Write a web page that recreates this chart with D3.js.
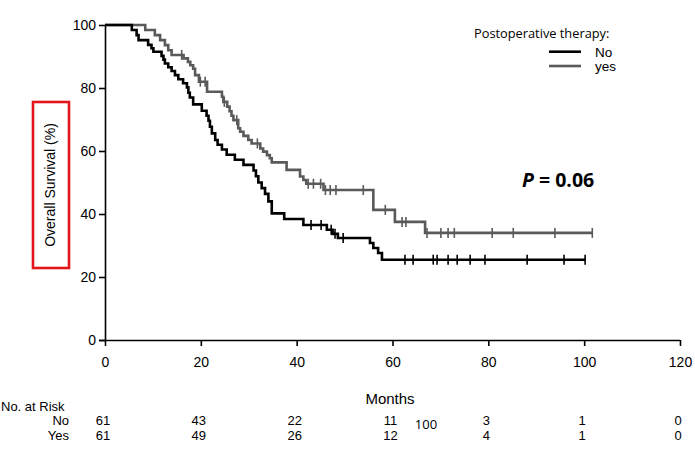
<!DOCTYPE html>
<html><head><meta charset="utf-8">
<script src="https://cdn.jsdelivr.net/npm/d3@7"></script>
<style>body{margin:0;background:#fff}svg{display:block}</style>
</head><body>
<script>
// ---- data ----
const xTicks = [0, 20, 40, 60, 80, 100, 120];
const yTicks = [0, 20, 40, 60, 80, 100];
const seriesNames = ["No", "yes"];
// "No" group (black) step curve
const noTimes = [0, 5.6, 6.6, 7.0, 9.0, 9.7, 10.1, 11.8, 12.2, 12.5, 13.2, 13.9, 14.6, 15.3, 16.3, 17.1, 17.4, 17.7, 18.4, 20.2, 21.2, 21.6, 21.9, 22.3, 23.0, 23.5, 24.4, 25.4, 27.1, 28.9, 31.0, 31.5, 32.0, 32.7, 33.4, 34.1, 34.8, 37.4, 41.4, 46.3, 47.5, 48.6, 55.3, 56.0, 57.0, 57.8];
const noSurv  = [100, 98.4, 96.8, 95.2, 93.7, 92.6, 91.5, 90.2, 89.0, 87.8, 86.6, 85.4, 84.1, 82.8, 81.5, 80.2, 78.5, 77.0, 74.8, 72.8, 71.2, 69.6, 67.7, 65.6, 63.5, 62.0, 60.5, 58.8, 57.2, 55.6, 53.8, 52.0, 50.0, 48.2, 46.4, 44.0, 40.2, 38.4, 36.5, 35.0, 33.7, 32.4, 30.8, 29.2, 27.6, 25.5];
const noEnd = 100.2;
const noCensor = [43.0, 45.1, 47.2, 48.0, 49.7, 62.6, 64.3, 68.5, 69.3, 71.6, 73.5, 76.2, 79.3, 88.1, 95.8, 100.2];
// "yes" group (grey) step curve
const yesTimes = [0, 8.4, 10.4, 11.5, 12.5, 13.2, 13.9, 16.4, 17.3, 17.8, 18.4, 18.8, 19.6, 21.3, 24.4, 24.7, 25.5, 26.0, 26.4, 26.8, 27.8, 28.2, 28.9, 29.9, 30.6, 32.4, 33.0, 33.8, 34.4, 34.8, 37.9, 40.7, 41.4, 42.0, 45.6, 56.0, 60.5, 66.8];
const yesSurv  = [100, 98.4, 96.8, 95.2, 93.6, 92.0, 90.5, 89.4, 88.3, 87.2, 86.1, 84.1, 82.0, 78.8, 77.2, 75.6, 74.1, 72.6, 71.2, 69.8, 67.2, 66.1, 64.8, 63.5, 62.4, 60.8, 59.8, 58.7, 57.7, 56.4, 54.0, 51.9, 50.8, 49.6, 47.6, 41.3, 37.5, 34.0];
const yesEnd = 101.7;
const yesCensor = [16.0, 19.9, 20.9, 24.9, 27.5, 31.8, 42.4, 43.5, 45.0, 46.0, 47.0, 48.2, 53.9, 58.5, 62.0, 62.8, 67.2, 70.1, 71.6, 72.9, 80.8, 85.2, 93.9, 101.7];
// number at risk
const riskTimes = [0, 20, 40, 60, 80, 100, 120];
const riskNo  = [61, 43, 22, 11, 3, 1, 0];
const riskYes = [61, 49, 26, 12, 4, 1, 0];
const pText = "0.06";

// ---- drawing ----
const W = 695, H = 458;
const svg = d3.select("body").append("svg").attr("width", W).attr("height", H);
const x = d3.scaleLinear().domain([0, 120]).range([105, 680]);
const y = d3.scaleLinear().domain([0, 100]).range([340, 25]);
const AX = "'Liberation Sans', Arial, sans-serif";
const NARROW = "'Liberation Sans Narrow', 'Liberation Sans', Arial, sans-serif";

// axes
const gy = svg.append("g").attr("transform", `translate(${x(0)},0)`)
  .call(d3.axisLeft(y).tickValues(yTicks).tickSize(6).tickPadding(3).tickFormat(d3.format("d")));
const gx = svg.append("g").attr("transform", `translate(0,${y(0)})`)
  .call(d3.axisBottom(x).tickValues(xTicks).tickSize(6).tickPadding(11).tickFormat(d3.format("d")));
[gy, gx].forEach(g => {
  g.select(".domain").attr("stroke", "#000").attr("stroke-width", 1.6);
  g.selectAll(".tick line").attr("stroke", "#000").attr("stroke-width", 1.6);
  g.selectAll("text").attr("font-family", AX).attr("font-size", 14).attr("fill", "#000");
});
gx.select(".domain").attr("d", `M${x(0)-6},0.5H${x(120)}`);
gy.select(".domain").attr("d", `M0.5,${y(100)}V${y(0)}`);

function stepFn(times, surv) {
  return t => { let s = surv[0]; for (let i = 0; i < times.length; i++) if (times[i] <= t) s = surv[i]; return s; };
}
function drawCurve(times, surv, end, censor, color) {
  const pts = times.map((t, i) => [t, surv[i]]);
  pts.push([end, surv[surv.length - 1]]);
  svg.append("path").datum(pts)
    .attr("d", d3.line().x(d => x(d[0])).y(d => y(d[1])).curve(d3.curveStepAfter))
    .attr("fill", "none").attr("stroke", color).attr("stroke-width", 2.6);
  const f = stepFn(times, surv);
  svg.append("g").selectAll("line").data(censor).join("line")
    .attr("x1", d => x(d)).attr("x2", d => x(d))
    .attr("y1", d => y(f(d)) - 5).attr("y2", d => y(f(d)) + 5)
    .attr("stroke", color).attr("stroke-width", 1.6);
}
drawCurve(yesTimes, yesSurv, yesEnd, yesCensor, "#5a5a5a");
drawCurve(noTimes, noSurv, noEnd, noCensor, "#000");

// legend
svg.append("text").attr("x", 474).attr("y", 38).text("Postoperative therapy:")
  .attr("font-family", "'Open Sans', sans-serif").attr("font-size", 12.8).attr("fill", "#000");
const legColors = ["#000", "#5a5a5a"];
seriesNames.forEach((n, i) => {
  const ly = 51.7 + i * 14.3;
  svg.append("line").attr("x1", 549).attr("x2", 581).attr("y1", ly).attr("y2", ly)
    .attr("stroke", legColors[i]).attr("stroke-width", 2.6);
  svg.append("text").attr("x", 595).attr("y", ly + 4.8).text(n)
    .attr("font-family", AX).attr("font-size", 13.5).attr("fill", "#000");
});

// P value
const pt = svg.append("text").attr("x", 522).attr("y", 187)
  .attr("font-family", "'Open Sans', sans-serif").attr("font-size", 19.5).attr("font-weight", "bold").attr("fill", "#000");
pt.append("tspan").attr("font-style", "italic").text("P");
pt.append("tspan").text(" = " + pText);

// y title + red box
svg.append("rect").attr("x", 33).attr("y", 102).attr("width", 36).attr("height", 166)
  .attr("fill", "none").attr("stroke", "#e3141c").attr("stroke-width", 2.6);
svg.append("text").attr("transform", "translate(55,185) rotate(-90)").attr("text-anchor", "middle")
  .text("Overall Survival (%)").attr("font-family", AX).attr("font-size", 14).attr("fill", "#000");

// x title
svg.append("text").attr("x", 390).attr("y", 404).attr("text-anchor", "middle").text("Months")
  .attr("font-family", AX).attr("font-size", 15).attr("fill", "#000");

// risk table
svg.append("text").attr("x", 1).attr("y", 411).text("No. at Risk")
  .attr("font-family", NARROW).attr("font-size", 13).attr("fill", "#000");
const rows = [["No", riskNo, 425], ["Yes", riskYes, 440]];
rows.forEach(([lab, vals, ry]) => {
  svg.append("text").attr("x", 69).attr("y", ry).attr("text-anchor", "end").text(lab)
    .attr("font-family", NARROW).attr("font-size", 13).attr("fill", "#000");
  svg.append("g").selectAll("text").data(vals).join("text")
    .attr("x", (d, i) => x(riskTimes[i]) - 2).attr("y", ry).attr("text-anchor", "middle").text(d => d)
    .attr("font-family", NARROW).attr("font-size", 13).attr("fill", "#000");
});
svg.append("text").attr("x", 426).attr("y", 429).attr("text-anchor", "middle").text("100")
  .attr("font-family", "'Open Sans', sans-serif").attr("font-size", 13).attr("fill", "#000");
</script>
</body></html>
